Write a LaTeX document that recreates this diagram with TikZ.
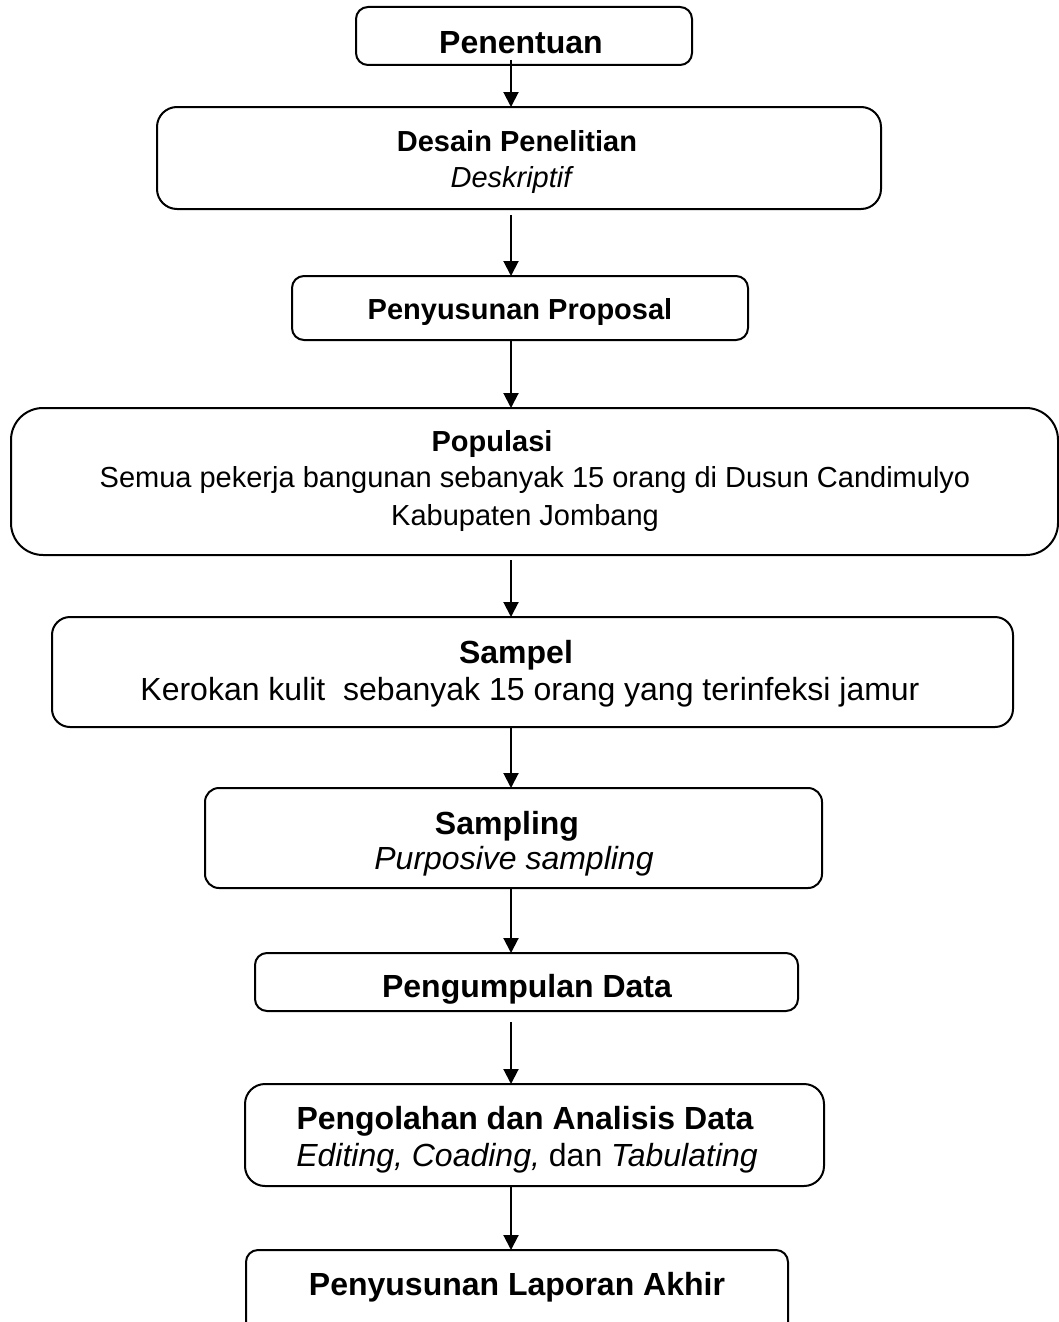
\documentclass[tikz,border=0pt]{standalone}
\usepackage{fontspec}
\setmainfont{Liberation Sans}
\usetikzlibrary{arrows.meta,calc}
\begin{document}
\begin{tikzpicture}[x=1pt,y=-1pt,
  box/.style={draw, line width=2pt, rounded corners=#1, inner sep=0pt, outer sep=0pt},
  box/.default=12pt,
  arr/.style={line width=2pt, -{Triangle[length=15pt,width=15pt]}},
  tA/.style={anchor=base, inner sep=0pt, font=\fontsize{29pt}{34pt}\selectfont},
  tB/.style={anchor=base, inner sep=0pt, font=\fontsize{32pt}{37pt}\selectfont}]
\useasboundingbox (0,0) rectangle (1059,1322);
\clip (0,0) rectangle (1059,1322);
\coordinate (ax) at (511,0);
% boxes
\node[box=12pt, minimum width=336pt, minimum height=58pt] (b1) at (524,36) {};
\node[box=20pt, minimum width=724pt, minimum height=102pt] (b2) at (519,158) {};
\node[box=12pt, minimum width=456pt, minimum height=64pt] (b3) at (520,308) {};
\node[box=32pt, minimum width=1047pt, minimum height=147pt] (b4) at (534.5,481.5) {};
\node[box=18pt, minimum width=961pt, minimum height=110pt] (b5) at (532.5,672) {};
\node[box=14pt, minimum width=617pt, minimum height=100pt] (b6) at (513.5,838) {};
\node[box=12pt, minimum width=543pt, minimum height=58pt] (b7) at (526.5,982) {};
\node[box=20pt, minimum width=579pt, minimum height=102pt] (b8) at (534.5,1135) {};
\node[box=12pt, minimum width=542pt, minimum height=90pt] (b9) at (517,1295) {};
% texts
\node[tB] (t1) at (521,53) {\bfseries Penentuan};
\node[tA] (t2a) at (517,151) {\bfseries Desain Penelitian};
\node[tA] (t2b) at (511,187) {\itshape Deskriptif};
\node[tA] (t3) at (520,319) {\bfseries Penyusunan Proposal};
\node[tA] (t4a) at (492,451) {\bfseries Populasi};
\node[tA] (t4b) at (535,487) {Semua pekerja bangunan sebanyak 15 orang di Dusun Candimulyo};
\node[tA] (t4c) at (525,525) {Kabupaten Jombang};
\node[tB] (t5a) at (516,663) {\bfseries Sampel};
\node[tB] (t5b) at (530,700) {Kerokan kulit~ sebanyak 15 orang yang terinfeksi jamur};
\node[tB] (t6a) at (507,834) {\bfseries Sampling};
\node[tB] (t6b) at (514,869) {\itshape Purposive sampling};
\node[tB] (t7) at (527,997) {\bfseries Pengumpulan Data};
\node[tB] (t8a) at (525,1129) {\bfseries Pengolahan dan Analisis Data};
\node[tB] (t8b) at (527,1166) {\textit{Editing, Coading,} dan \textit{Tabulating}};
\node[tB] (t9) at (517,1295) {\bfseries Penyusunan Laporan Akhir};
% arrows
\draw[arr] ($(b1.south -| ax)+(0,-5)$) -- (b2.north -| ax);
\draw[arr] ($(b2.south -| ax)+(0,6)$) -- (b3.north -| ax);
\draw[arr] (b3.south -| ax) -- (b4.north -| ax);
\draw[arr] ($(b4.south -| ax)+(0,5)$) -- (b5.north -| ax);
\draw[arr] (b5.south -| ax) -- (b6.north -| ax);
\draw[arr] (b6.south -| ax) -- (b7.north -| ax);
\draw[arr] ($(b7.south -| ax)+(0,11)$) -- (b8.north -| ax);
\draw[arr] (b8.south -| ax) -- (b9.north -| ax);
\end{tikzpicture}
\end{document}
